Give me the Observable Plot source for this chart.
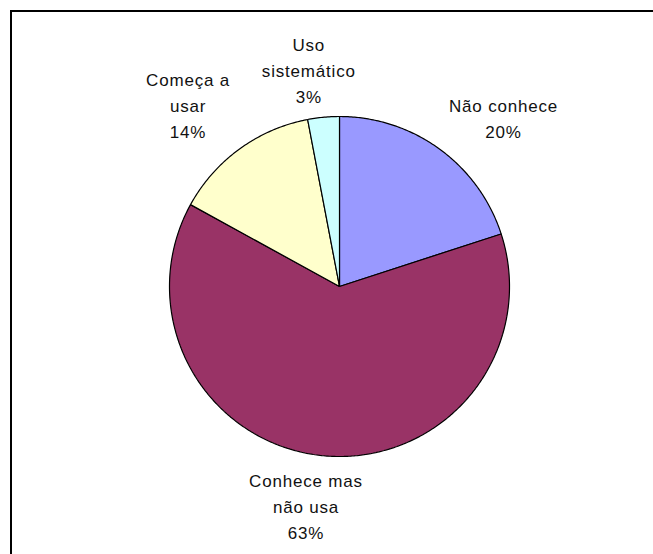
<!DOCTYPE html>
<html>
<head>
<meta charset="utf-8">
<script src="https://cdn.jsdelivr.net/npm/d3@7"></script>
<script src="https://cdn.jsdelivr.net/npm/@observablehq/plot@0.6"></script>
<style>
  html, body { margin: 0; padding: 0; background: #fff; overflow: hidden; }
  #wrap { position: relative; width: 653px; height: 554px; }
  #frame { position: absolute; left: 10px; top: 10px; width: 700px; height: 600px;
           border-top: 2px solid #000; border-left: 2px solid #000; }
  #chart { position: absolute; left: 0; top: 0; }
</style>
</head>
<body>
<div id="wrap"><div id="frame"></div><div id="chart"></div></div>
<script>
// ---- data ----
const categories = ["Não conhece", "Conhece mas não usa", "Começa a usar", "Uso sistemático"];
const labelText  = ["Não conhece", "Conhece mas\nnão usa", "Começa a\nusar", "Uso\nsistemático"];
const values     = [20, 63, 14, 3];
const colors     = ["#9999FF", "#993366", "#FFFFCC", "#CCFFFF"];

// ---- layout ----
const W = 653, H = 554;
const R = 170;            // pie radius in px (1 data unit)
const cx = 339, cy = 286; // pie centre in px
const fontSize = 17, letterSp = 0.8, lineH = 26, capH = 12, gap = 17;
const font = `${fontSize}px "Liberation Sans"`;

const total = d3.sum(values);
const pie = d3.pie().sort(null).value(d => d)(values);

// polygon points for each slice (angles clockwise from 12 o'clock)
const slicePts = [];
pie.forEach((p, i) => {
  const n = Math.max(2, Math.ceil((p.endAngle - p.startAngle) / 0.01));
  slicePts.push({name: categories[i], x: 0, y: 0});
  for (let k = 0; k <= n; k++) {
    const a = p.startAngle + (p.endAngle - p.startAngle) * k / n;
    slicePts.push({name: categories[i], x: Math.sin(a), y: Math.cos(a)});
  }
  slicePts.push({name: categories[i], x: 0, y: 0});
});

// label placement outside the pie
const ctx = document.createElement("canvas").getContext("2d");
ctx.font = font;
const textW = l => ctx.measureText(l).width + Math.max(0, l.length - 1) * letterSp;
const clamp = v => Math.max(-1, Math.min(1, v));
const labels = pie.map((p, i) => {
  const text = labelText[i] + "\n" + Math.round(values[i] / total * 100) + "%";
  const lines = text.split("\n");
  const hw = d3.max(lines, textW) / 2;
  const hh = ((lines.length - 1) * lineH + capH) / 2;
  const m = (p.startAngle + p.endAngle) / 2;
  const s = Math.sin(m), c = Math.cos(m);
  const px = R * s + gap * s + hw * clamp(s * 3);
  const py = R * c + gap * c + hh * clamp(c * 3);
  return {text, x: px / R, y: py / R};
});

const plot = Plot.plot({
  width: W, height: H,
  margin: 0,
  x: {domain: [-cx / R, (W - cx) / R], axis: null},
  y: {domain: [-(H - cy) / R, cy / R], axis: null},
  color: {domain: categories, range: colors},
  style: {background: "transparent", fontFamily: '"Liberation Sans", Arial, sans-serif', letterSpacing: letterSp + "px"},
  marks: [
    Plot.line(slicePts, {
      x: "x", y: "y", z: "name", fill: "name",
      stroke: "#000", strokeWidth: 1.2, strokeLinejoin: "miter", strokeLinecap: "butt"
    }),
    Plot.text(labels, {
      x: "x", y: "y", text: "text",
      fontSize: fontSize, lineHeight: lineH / fontSize, lineAnchor: "middle",
      textAnchor: "middle", fill: "#111"
    })
  ]
});
document.getElementById("chart").appendChild(plot);
</script>
</body>
</html>
